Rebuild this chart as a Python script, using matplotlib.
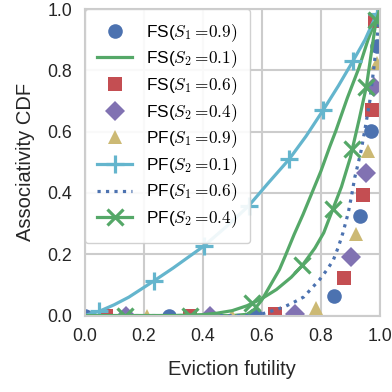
import matplotlib
matplotlib.use("Agg")
import matplotlib.pyplot as plt
from matplotlib.lines import Line2D

# colours (seaborn "deep")
BLUE = "#4C72B0"
GREEN = "#55A868"
RED = "#C44E52"
PURPLE = "#8172B2"
YELLOW = "#CCB974"
CYAN = "#64B5CD"

# scatter-only series: marker positions
fs_s1_09_x = [0.0, 0.286, 0.577, 0.845, 0.934, 0.970, 0.992]
fs_s1_09_y = [0.0, 0.0, 0.002, 0.063, 0.326, 0.603, 0.880]

fs_s1_06_x = [0.073, 0.357, 0.645, 0.879, 0.944, 0.975, 0.985]
fs_s1_06_y = [0.0, 0.0, 0.005, 0.123, 0.393, 0.672, 0.960]

fs_s2_04_x = [0.142, 0.425, 0.712, 0.901, 0.952, 0.980]
fs_s2_04_y = [0.0, 0.0, 0.006, 0.190, 0.466, 0.745]

pf_s1_09_x = [0.210, 0.500, 0.784, 0.918, 0.961, 0.989]
pf_s1_09_y = [0.0, 0.0, 0.026, 0.267, 0.536, 0.824]

# line series
fs_s2_01_x = [0.0, 0.5, 0.55, 0.575, 0.6, 0.63, 0.66, 0.68, 0.71, 0.74,
              0.77, 0.80, 0.83, 0.85, 0.89, 0.93, 0.96, 0.98, 1.0]
fs_s2_01_y = [0.0, 0.0, 0.004, 0.02, 0.05, 0.10, 0.15, 0.195, 0.265, 0.33,
              0.40, 0.47, 0.55, 0.60, 0.71, 0.81, 0.90, 0.95, 1.0]

pf_s2_01_x = [0.0, 0.05, 0.1, 0.15, 0.235, 0.3, 0.403, 0.48, 0.556, 0.62,
              0.693, 0.75, 0.808, 0.86, 0.91, 0.95, 0.99, 1.0]
pf_s2_01_y = [0.0, 0.014, 0.035, 0.06, 0.113, 0.155, 0.226, 0.29, 0.358, 0.43,
              0.51, 0.585, 0.67, 0.75, 0.832, 0.9, 0.985, 1.0]
pf_s2_01_mx = [0.049, 0.235, 0.403, 0.556, 0.693, 0.808, 0.91, 0.99]
pf_s2_01_my = [0.014, 0.113, 0.226, 0.358, 0.51, 0.67, 0.832, 0.985]

pf_s1_06_x = [0.0, 0.55, 0.6, 0.645, 0.678, 0.712, 0.743, 0.77, 0.795, 0.82,
              0.842, 0.86, 0.875, 0.893, 0.905, 0.915, 0.925, 0.937, 0.95,
              0.966, 0.98, 0.99, 1.0]
pf_s1_06_y = [0.0, 0.0, 0.005, 0.018, 0.029, 0.045, 0.061, 0.09, 0.116, 0.148,
              0.18, 0.225, 0.27, 0.335, 0.395, 0.45, 0.49, 0.54, 0.61,
              0.70, 0.81, 0.90, 1.0]

pf_s2_04_x = [0.0, 0.3, 0.4, 0.45, 0.5, 0.55, 0.6, 0.65, 0.7, 0.737, 0.78,
              0.81, 0.84, 0.87, 0.9, 0.93, 0.955, 0.97, 0.986, 1.0]
pf_s2_04_y = [0.0, 0.0, 0.003, 0.008, 0.016, 0.032, 0.055, 0.085, 0.125, 0.163,
              0.22, 0.27, 0.345, 0.42, 0.515, 0.64, 0.75, 0.85, 0.955, 1.0]
pf_s2_04_mx = [0.137, 0.357, 0.567, 0.736, 0.840, 0.906, 0.954, 0.986]
pf_s2_04_my = [0.0, 0.0, 0.041, 0.164, 0.346, 0.542, 0.745, 0.965]

labels = [
    r"FS($S_1=\!0.9)$",
    r"FS($S_2=\!0.1)$",
    r"FS($S_1=\!0.6)$",
    r"FS($S_2=\!0.4)$",
    r"PF($S_1=\!0.9)$",
    r"PF($S_2=\!0.1)$",
    r"PF($S_1=\!0.6)$",
    r"PF($S_2=\!0.4)$",
]

plt.rcParams["font.family"] = ["Liberation Sans", "DejaVu Sans"]
plt.rcParams["mathtext.fontset"] = "cm"

LW = 2.3
MS = 10.5

fig = plt.figure(figsize=(3.92, 3.92), dpi=100)
ax = fig.add_axes([0.2156, 0.195, 0.7534, 0.782])

ax.plot(fs_s1_09_x, fs_s1_09_y, ls="none", marker="o", ms=MS, color=BLUE, mew=0)
ax.plot(fs_s2_01_x, fs_s2_01_y, color=GREEN, lw=LW)
ax.plot(fs_s1_06_x, fs_s1_06_y, ls="none", marker="s", ms=MS, color=RED, mew=0)
ax.plot(fs_s2_04_x, fs_s2_04_y, ls="none", marker="D", ms=MS * 0.95, color=PURPLE, mew=0)
ax.plot(pf_s1_09_x, pf_s1_09_y, ls="none", marker="^", ms=MS, color=YELLOW, mew=0)
ax.plot(pf_s2_01_x, pf_s2_01_y, color=CYAN, lw=LW)
ax.plot(pf_s2_01_mx, pf_s2_01_my, ls="none", marker="+", ms=13, mew=2.3, color=CYAN)
ax.plot(pf_s1_06_x, pf_s1_06_y, color=BLUE, lw=LW, ls=":")
ax.plot(pf_s2_04_x, pf_s2_04_y, color=GREEN, lw=LW)
ax.plot(pf_s2_04_mx, pf_s2_04_my, ls="none", marker="x", ms=12, mew=2.3, color=GREEN)

handles = [
    Line2D([], [], ls="none", marker="o", ms=MS, color=BLUE, mew=0),
    Line2D([], [], color=GREEN, lw=LW),
    Line2D([], [], ls="none", marker="s", ms=MS, color=RED, mew=0),
    Line2D([], [], ls="none", marker="D", ms=MS * 0.95, color=PURPLE, mew=0),
    Line2D([], [], ls="none", marker="^", ms=MS, color=YELLOW, mew=0),
    Line2D([], [], color=CYAN, lw=LW, marker="+", ms=13, mew=2.3),
    Line2D([], [], color=BLUE, lw=LW, ls=":"),
    Line2D([], [], color=GREEN, lw=LW, marker="x", ms=12, mew=2.3),
]

leg = ax.legend(handles, labels, loc="upper left", fontsize=12.4,
                frameon=True, fancybox=True, borderaxespad=0.0,
                handlelength=2.0, handletextpad=0.8, labelspacing=0.29,
                borderpad=0.75, numpoints=1)
leg.get_frame().set_edgecolor("0.8")
leg.get_frame().set_facecolor("white")
leg.get_frame().set_alpha(0.9)

ax.set_xlim(0, 1)
ax.set_ylim(0, 1)
ax.set_xticks([0.0, 0.2, 0.4, 0.6, 0.8, 1.0])
ax.set_yticks([0.0, 0.2, 0.4, 0.6, 0.8, 1.0])
ax.tick_params(length=0, pad=9, labelsize=12.8, labelcolor="0.15")
ax.grid(True, color="0.8", lw=1.5)
ax.set_axisbelow(True)
for sp in ax.spines.values():
    sp.set_color("0.8")
    sp.set_linewidth(1.5)

ax.set_xlabel("Eviction futility", fontsize=14.5, color="0.15", labelpad=11)
ax.set_ylabel("Associativity CDF", fontsize=14.5, color="0.15", labelpad=9)

fig.savefig("out.png", dpi=100)
